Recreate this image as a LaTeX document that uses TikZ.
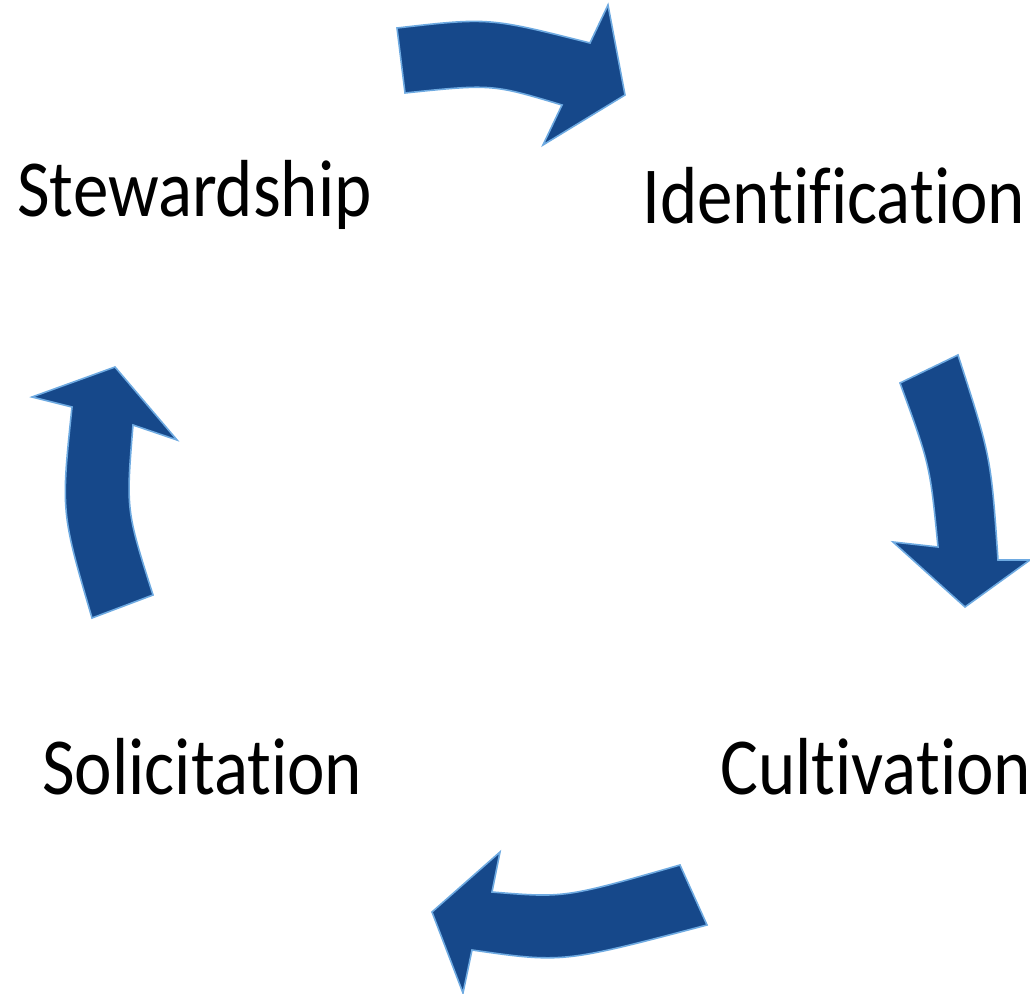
\documentclass[tikz,border=0pt]{standalone}
\usepackage{fontspec}
\setmainfont{Carlito}[Ligatures=NoCommon]
\usetikzlibrary{positioning}

\definecolor{arrowblue}{RGB}{22,72,138}
\definecolor{arrowrim}{RGB}{110,170,225}
\newcommand{\tall}[1]{\scalebox{1}[1.14]{#1}}

\begin{document}
\begin{tikzpicture}[
      x=0.5pt,y=-0.5pt,
      stage/.style={
        inner sep=0pt,
        anchor=base west,
        font=\fontsize{35.5}{40}\selectfont
      },
      blockarrow/.style={
        fill=arrowblue,
        draw=arrowrim,
        line width=0.8pt,
        line join=miter
      }
      ]
      \useasboundingbox (0,0) rectangle (1030,994);

      \node[stage] (stew) at (17,217) {\tall{Stewardship}};
      \node[stage] (ident) at (642,224) {\tall{Identification}};
      \node[stage] (solic) at (42,795) {\tall{Solicitation}};
      \node[stage] (cult) at (720,795) {\tall{Cultivation}};

      % top
      \draw[blockarrow] (397,28) .. controls (489,17.5) .. (590,43)
        -- (608,5) -- (625,95) -- (543,145) -- (562,105)
        .. controls (492,84) .. (405,93) -- cycle;
      % right
      \draw[blockarrow] (900,383) -- (958,355)
        .. controls (991,457) .. (998,560)
        -- (1030,560) -- (965,607) -- (893,542) -- (938,547)
        .. controls (930,465) .. cycle;
      % bottom
      \draw[blockarrow] (680,865) .. controls (565,898) .. (492,892)
        -- (500,852) -- (432,912) -- (463,993) -- (472,950)
        .. controls (563,963) .. (707,925) -- cycle;
      % left
      \draw[blockarrow] (115,367) -- (32,397) -- (72,407)
        .. controls (61,512) .. (92,618) -- (153,595)
        .. controls (126,510) .. (133,425) -- (177,440) -- cycle;
    \end{tikzpicture}
\end{document}
